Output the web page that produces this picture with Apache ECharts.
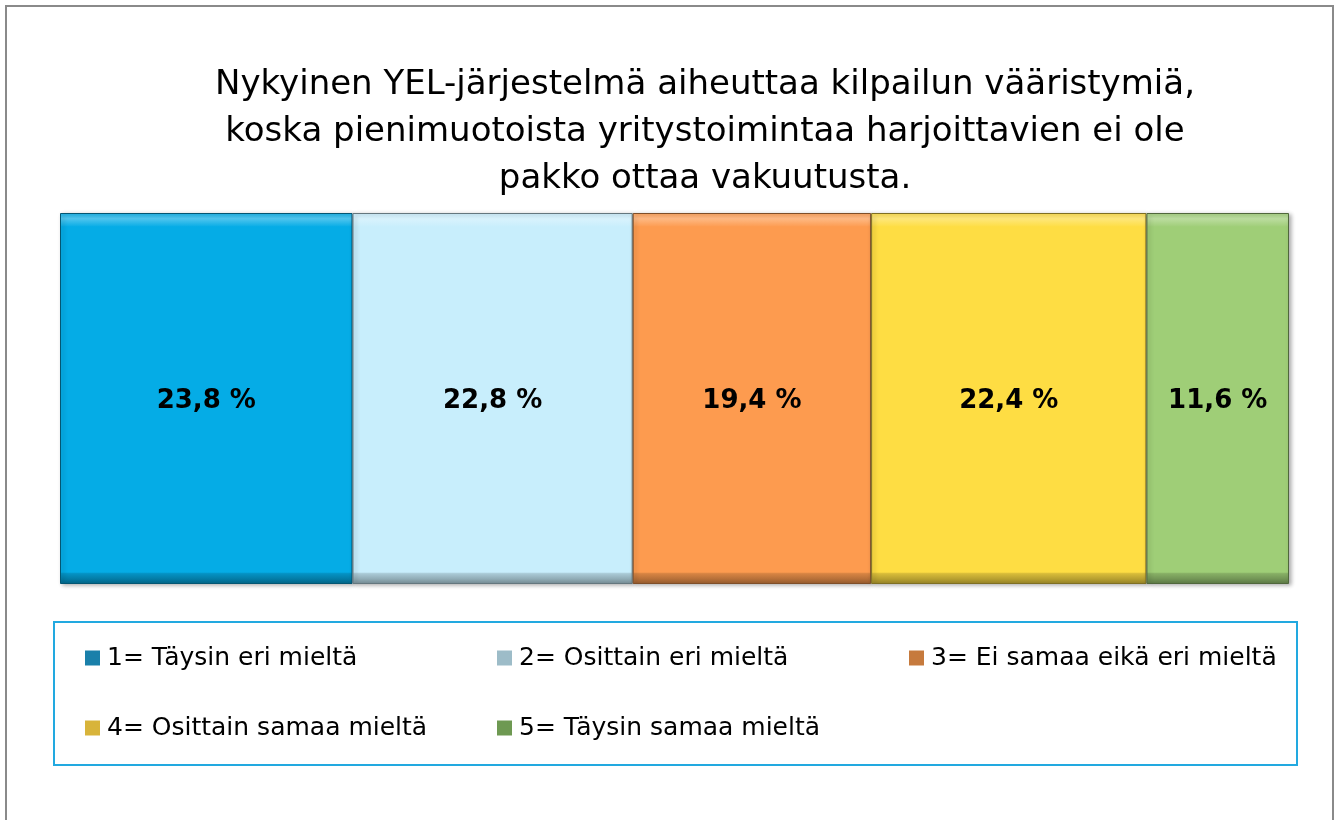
<!DOCTYPE html>
<html>
<head>
<meta charset="utf-8">
<script src="https://cdn.jsdelivr.net/npm/echarts@6/dist/echarts.min.js"></script>
<style>
  html, body { margin: 0; padding: 0; background: #fff; }
  #chart { width: 1338px; height: 820px; }
</style>
</head>
<body>
<div id="chart"></div>
<script>
// data
const categories = ['Vastaukset'];
const seriesNames = [
  '1= Täysin eri mieltä',
  '2= Osittain eri mieltä',
  '3= Ei samaa eikä eri mieltä',
  '4= Osittain samaa mieltä',
  '5= Täysin samaa mieltä'
];
const seriesValues = [23.8, 22.8, 19.4, 22.4, 11.6];
const seriesColors = ['#05ace6', '#c8eefc', '#fd9b4f', '#fedd43', '#9fce77'];
const legendColors = ['#1a80aa', '#9dbcc8', '#c67a3d', '#d8b43a', '#6e9952'];

const titleText = 'Nykyinen YEL-järjestelmä aiheuttaa kilpailun vääristymiä,\n' +
  'koska pienimuotoista yritystoimintaa harjoittavien ei ole\n' +
  'pakko ottaa vakuutusta.';

const font = '"DejaVu Sans", Verdana, sans-serif';

// mix a hex colour towards white (t > 0) or black (t < 0)
function shade(hex, t) {
  const n = parseInt(hex.slice(1), 16);
  const rgb = [(n >> 16) & 255, (n >> 8) & 255, n & 255];
  const target = t > 0 ? 255 : 0;
  const a = Math.abs(t);
  const out = rgb.map(c => Math.round(c + (target - c) * a));
  return 'rgb(' + out.join(',') + ')';
}

// bevel look: light band on top, dark band at the bottom
function bevelFill(c) {
  return new echarts.graphic.LinearGradient(0, 0, 0, 1, [
    { offset: 0, color: shade(c, 0.1) },
    { offset: 0.015, color: shade(c, 0.3) },
    { offset: 0.034, color: shade(c, 0.05) },
    { offset: 0.037, color: c },
    { offset: 0.968, color: c },
    { offset: 0.972, color: shade(c, -0.15) },
    { offset: 1, color: shade(c, -0.4) }
  ]);
}

const chart = echarts.init(document.getElementById('chart'));

const series = seriesNames.map((name, i) => ({
  name: name,
  type: 'bar',
  stack: 'total',
  barWidth: '100%',
  data: [seriesValues[i]],
  itemStyle: {
    color: bevelFill(seriesColors[i]),
    borderColor: shade(seriesColors[i], -0.5),
    borderWidth: 1,
    shadowColor: 'rgba(0,0,0,0.3)',
    shadowBlur: 4,
    shadowOffsetX: 2,
    shadowOffsetY: 1
  },
  label: {
    show: true,
    position: 'inside',
    offset: [0, 3],
    formatter: p => p.value.toFixed(1).replace('.', ',') + ' %',
    color: '#000',
    fontFamily: font,
    fontWeight: 'bold',
    fontSize: 26
  }
}));

chart.setOption({
  animation: false,
  backgroundColor: '#fff',
  title: {
    text: titleText,
    left: 700,
    textAlign: 'center',
    top: 57,
    textStyle: {
      fontFamily: font,
      fontWeight: 'normal',
      fontSize: 34,
      lineHeight: 47,
      color: '#000'
    }
  },
  grid: { left: 60, right: 49, top: 213, height: 371 },
  xAxis: { type: 'value', min: 0, max: 100, show: false },
  yAxis: { type: 'category', data: categories, show: false },
  legend: {
    left: 85,
    top: 623,
    width: 1240,
    padding: 0,
    itemGap: 0,
    itemWidth: 15,
    itemHeight: 15,
    icon: 'rect',
    textStyle: {
      fontFamily: font,
      fontSize: 25,
      color: '#000',
      width: 390,
      lineHeight: 70,
      padding: [0, 0, 0, 2]
    },
    data: seriesNames.map((name, i) => ({
      name: name,
      itemStyle: {
        color: legendColors[i],
        borderWidth: 0,
        shadowBlur: 0,
        shadowOffsetX: 0,
        shadowOffsetY: 0
      }
    }))
  },
  graphic: [
    {
      type: 'rect',
      shape: { x: 6, y: 6, width: 1327, height: 830 },
      style: { fill: 'none', stroke: '#8a8a8a', lineWidth: 2 },
      silent: true
    },
    {
      type: 'rect',
      shape: { x: 54, y: 622, width: 1243, height: 143 },
      style: { fill: 'none', stroke: '#22a9e0', lineWidth: 2 },
      silent: true
    }
  ],
  series: series
});

window.addEventListener('resize', () => chart.resize());
</script>
</body>
</html>
